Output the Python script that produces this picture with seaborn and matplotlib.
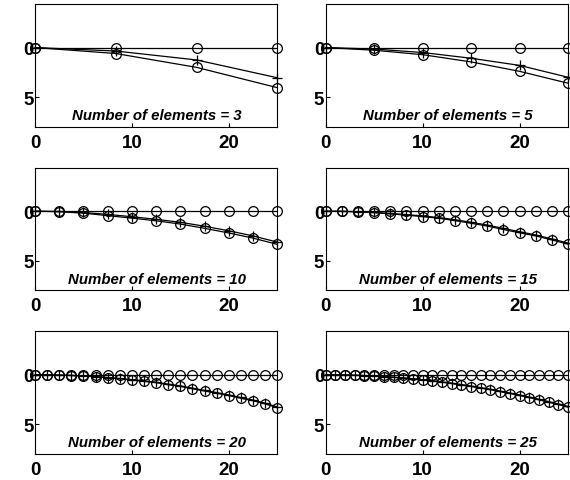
import numpy as np
import pandas as pd
import matplotlib
matplotlib.use("Agg")
import matplotlib.pyplot as plt
import seaborn as sns

# beam length and element counts shown in the six panels
beam_length = 25
n_elements = [3, 5, 10, 15, 20, 25]

# deflection (downward positive), one list per panel
fe_3 = [0, 0.6, 2.0, 4.05]
exact_3 = [0, 0.35, 1.25, 3.05]

fe_5 = [0, 0.27, 0.72, 1.45, 2.4, 3.6]
exact_5 = [0, 0.15, 0.5, 1.08, 1.8, 3.0]

fe_10 = [0, 0.05, 0.2, 0.45, 0.7, 0.97, 1.3, 1.73, 2.2, 2.72, 3.35]
exact_10 = [0, 0.03, 0.13, 0.32, 0.56, 0.82, 1.12, 1.52, 1.98, 2.5, 3.12]

fe_15 = [0, 0.02, 0.07, 0.15, 0.27, 0.4, 0.55, 0.71, 0.95, 1.22,
         1.5, 1.85, 2.18, 2.49, 2.9, 3.33]
exact_15 = [0, 0.01, 0.05, 0.12, 0.22, 0.34, 0.48, 0.64, 0.86, 1.12,
            1.4, 1.74, 2.07, 2.4, 2.8, 3.22]

fe_20 = [0, 0.01, 0.03, 0.07, 0.13, 0.2, 0.3, 0.4, 0.53, 0.66, 0.79,
         1.0, 1.17, 1.41, 1.64, 1.86, 2.1, 2.37, 2.62, 2.94, 3.32]
exact_20 = [0, 0.01, 0.03, 0.06, 0.11, 0.18, 0.27, 0.37, 0.49, 0.62, 0.74,
            0.94, 1.11, 1.35, 1.57, 1.79, 2.03, 2.29, 2.55, 2.86, 3.24]

fe_25 = [0, 0.01, 0.02, 0.05, 0.08, 0.13, 0.19, 0.26, 0.33, 0.42, 0.52,
         0.63, 0.75, 0.88, 1.03, 1.18, 1.34, 1.51, 1.7, 1.89, 2.09,
         2.31, 2.53, 2.77, 3.01, 3.27]
exact_25 = [0, 0.0, 0.02, 0.04, 0.07, 0.12, 0.17, 0.24, 0.31, 0.39, 0.49,
            0.6, 0.71, 0.84, 0.98, 1.13, 1.29, 1.46, 1.64, 1.83, 2.03,
            2.24, 2.46, 2.7, 2.94, 3.19]

fe_values = [fe_3, fe_5, fe_10, fe_15, fe_20, fe_25]
exact_values = [exact_3, exact_5, exact_10, exact_15, exact_20, exact_25]

x_ticks = [0, 10, 20]
y_ticks = [0, 5]

sns.set_style("ticks")
plt.rcParams["font.family"] = ["Liberation Sans", "DejaVu Sans"]
plt.rcParams["text.color"] = "black"
plt.rcParams["xtick.color"] = "black"
plt.rcParams["ytick.color"] = "black"

fig, axes = plt.subplots(3, 2, figsize=(5.7, 4.81), dpi=100)
fig.subplots_adjust(left=0.0614, right=0.9965, bottom=0.054, top=0.9896,
                    wspace=0.2, hspace=0.333)

line_kw = dict(color="black", linewidth=0.9, markeredgecolor="black",
               markeredgewidth=0.9, markersize=7, clip_on=False)

for ax, n, fe, exact in zip(axes.flat, n_elements, fe_values, exact_values):
    nodes = np.linspace(0, beam_length, n + 1)
    undeformed = [0.0] * (n + 1)
    df = pd.DataFrame({"x": nodes, "undeformed": undeformed,
                       "fe": fe, "exact": exact})

    sns.lineplot(data=df, x="x", y="undeformed", ax=ax, marker="o",
                 markerfacecolor="none", **line_kw)
    sns.lineplot(data=df, x="x", y="fe", ax=ax, marker="o",
                 markerfacecolor="none", **line_kw)
    sns.lineplot(data=df, x="x", y="exact", ax=ax, marker="+", **line_kw)

    ax.set_xlim(0, beam_length)
    ax.set_ylim(8, -4.4)
    ax.set_xticks(x_ticks)
    ax.set_yticks(y_ticks)
    ax.set_xlabel("")
    ax.set_ylabel("")
    ax.tick_params(direction="in", length=3, width=0.8, labelsize=13.5,
                   colors="black")
    ax.tick_params(axis="y", pad=1)
    ax.tick_params(axis="x", pad=5)
    for lab in ax.get_xticklabels() + ax.get_yticklabels():
        lab.set_fontweight("bold")
    for sp in ax.spines.values():
        sp.set_visible(True)
        sp.set_linewidth(0.8)
        sp.set_color("black")

    ax.text(12.6, 6.8, f"Number of elements = {n}", ha="center", va="center",
            fontsize=10.8, fontweight="bold", fontstyle="italic", color="black")

fig.savefig("out.png", dpi=100)
